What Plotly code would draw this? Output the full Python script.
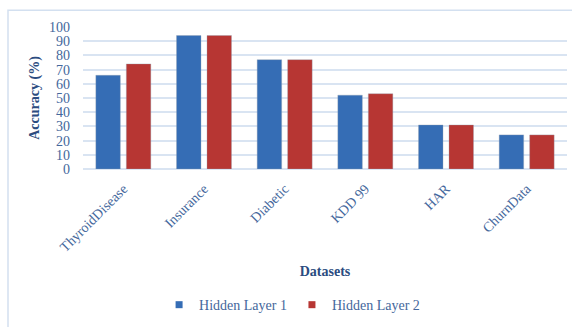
import plotly.graph_objects as go

# Accuracy per dataset for the two hidden-layer configurations
datasets = ["ThyroidDisease", "Insurance", "Diabetic", "KDD 99", "HAR", "ChurnData"]
hidden_layer_1 = [66, 94, 77, 52, 31, 24]
hidden_layer_2 = [74, 94, 77, 53, 31, 24]
y_ticks = [0, 10, 20, 30, 40, 50, 60, 70, 80, 90, 100]

TICK = "#44679c"
TITLE = "#2b4c80"
GRID = "#d9e4f2"
FONT = "Liberation Serif"
BLUE = "#356db5"
RED = "#b73633"

fig = go.Figure()
fig.add_trace(go.Bar(
    x=datasets, y=hidden_layer_1, name="Hidden Layer 1", showlegend=False, legendgroup="h1",
    marker=dict(color=BLUE, line=dict(color="rgba(150,160,175,0.35)", width=1)),
))
fig.add_trace(go.Bar(
    x=datasets, y=hidden_layer_2, name="Hidden Layer 2", showlegend=False, legendgroup="h2",
    marker=dict(color=RED, line=dict(color="rgba(150,160,175,0.35)", width=1)),
))
# small square legend keys
for name, color, grp in [("Hidden Layer 1", BLUE, "h1"), ("Hidden Layer 2", RED, "h2")]:
    fig.add_trace(go.Scatter(
        x=[None], y=[None], mode="markers", name=name, legendgroup=grp,
        marker=dict(symbol="square", size=7, color=color),
    ))

W, H = 572, 327
L, R, T, B = 83, 5, 27, 156
pw, ph = W - L - R, H - T - B

def px_x(p):
    return (p - L) / pw

def px_y(p):
    return (H - B - p) / ph

# outer chart frame
fig.add_shape(type="rect", xref="paper", yref="paper",
              x0=px_x(8), x1=px_x(580), y0=px_y(10), y1=px_y(335),
              line=dict(color="#d3e0f0", width=1.5), fillcolor="rgba(0,0,0,0)", layer="below")

fig.update_layout(
    width=W, height=H,
    margin=dict(l=L, r=R, t=T, b=B, pad=0),
    paper_bgcolor="white", plot_bgcolor="white",
    barmode="group", bargap=0.244, bargroupgap=0.197,
    font=dict(family=FONT, color=TICK, size=14),
    showlegend=True,
    legend=dict(orientation="h", x=0.432, xanchor="center", y=px_y(309), yanchor="middle",
                font=dict(family=FONT, size=14, color=TICK), itemwidth=30,
                traceorder="normal"),
    xaxis=dict(
        tickangle=-45, tickfont=dict(family=FONT, size=14, color=TICK),
        showgrid=False, showline=False, ticks="", ticklabelstandoff=8,
        title=dict(text="<b>Datasets</b>", font=dict(family=FONT, size=14, color=TITLE), standoff=12),
    ),
    yaxis=dict(
        range=[0, 100], tickvals=y_ticks, ticks="",
        tickfont=dict(family=FONT, size=14, color=TICK),
        showgrid=True, gridcolor=GRID, gridwidth=1.5,
        zeroline=True, zerolinecolor=GRID, zerolinewidth=1.5,
        ticklabelstandoff=12,
        title=dict(text="<b>Accuracy (%)</b>", font=dict(family=FONT, size=14, color=TITLE), standoff=6),
    ),
)

fig.write_html("out.html")
